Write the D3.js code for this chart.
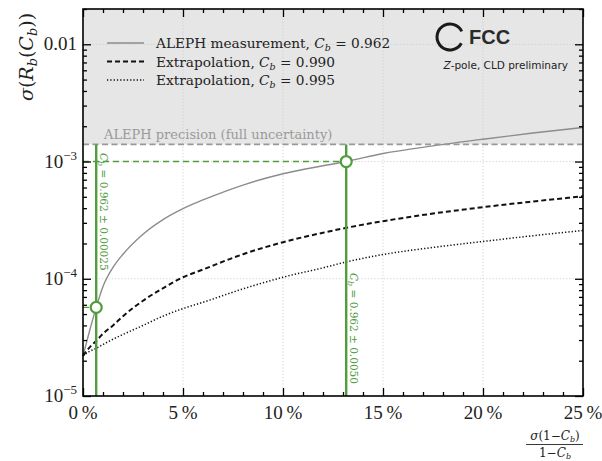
<!DOCTYPE html>
<html><head><meta charset="utf-8">
<script src="https://cdn.jsdelivr.net/npm/d3@7"></script>
<style>body{margin:0;background:#fff}svg{display:block}</style>
</head><body>
<svg id="c" width="602" height="461"></svg>
<script>
// ---- data ----
const xPct = [0, 0.33, 0.66, 1, 1.5, 2, 3, 4, 5, 6, 8, 10, 12, 13.16, 15, 17.5, 20, 22.5, 25];
const alephMeas = [2.2e-5, 3.6e-5, 5.7e-5, 8.6e-5, 1.25e-4, 1.62e-4, 2.4e-4, 3.2e-4, 3.97e-4, 4.7e-4, 6.3e-4, 7.87e-4, 9.2e-4, 1.0e-3, 1.17e-3, 1.36e-3, 1.55e-3, 1.75e-3, 1.95e-3];
const extrap990 = [2.2e-5, 2.6e-5, 2.95e-5, 3.4e-5, 4.0e-5, 4.8e-5, 6.5e-5, 8.3e-5, 1.03e-4, 1.2e-4, 1.62e-4, 2.05e-4, 2.47e-4, 2.72e-4, 3.1e-4, 3.6e-4, 4.08e-4, 4.56e-4, 5.05e-4];
const extrap995 = [2.2e-5, 2.4e-5, 2.55e-5, 2.75e-5, 3.05e-5, 3.35e-5, 4.0e-5, 4.8e-5, 5.57e-5, 6.3e-5, 8.2e-5, 1.03e-4, 1.24e-4, 1.39e-4, 1.61e-4, 1.85e-4, 2.08e-4, 2.33e-4, 2.58e-4];
const alephPrecision = 1.4e-3;
const markerX = [0.66, 13.16];
const markerY = [5.7e-5, 1.0e-3];
const markerLabels = ["0.00025", "0.0050"];
const xTicks = [0, 5, 10, 15, 20, 25];
const yTicks = [1e-5, 1e-4, 1e-3, 1e-2];
const yTickLabels = [["10","−5"], ["10","−4"], ["10","−3"], ["0.01",null]];
const legendItems = [
  {label:"ALEPH measurement, ", c:"0.962", style:"solid"},
  {label:"Extrapolation, ", c:"0.990", style:"dashed"},
  {label:"Extrapolation, ", c:"0.995", style:"dotted"}
];

// ---- layout ----
const svg = d3.select("#c");
const L = 83, R = 583, T = 9, B = 396;
const x = d3.scaleLinear().domain([0, 25]).range([L, R]);
const y = d3.scaleLog().domain([1e-5, 0.02]).range([B, T]);
const serif = "'DejaVu Serif', serif";
const tickFont = "'Liberation Serif', 'DejaVu Serif', serif";
const green = "#4f9d3c";

// shaded region
svg.append("rect").attr("x", L).attr("y", T).attr("width", R - L)
  .attr("height", y(alephPrecision) - T).attr("fill", "#e6e6e6");

// grid
const grid = svg.append("g").attr("stroke", "#c8c8c8").attr("stroke-width", 0.8).attr("stroke-dasharray", "1.2,2");
grid.selectAll("line.vx").data(xTicks.slice(1, -1)).join("line")
  .attr("x1", d => x(d)).attr("x2", d => x(d)).attr("y1", T).attr("y2", B);
grid.selectAll("line.hy").data(yTicks.slice(1)).join("line")
  .attr("y1", d => y(d)).attr("y2", d => y(d)).attr("x1", L).attr("x2", R);

// curves
const line = vals => d3.line().x((d, i) => x(xPct[i])).y(d => y(d)).curve(d3.curveMonotoneX)(vals);
svg.append("path").attr("d", line(alephMeas)).attr("fill", "none").attr("stroke", "#8c8c8c").attr("stroke-width", 1.4);
svg.append("path").attr("d", line(extrap990)).attr("fill", "none").attr("stroke", "#111").attr("stroke-width", 2).attr("stroke-dasharray", "5,3");
svg.append("path").attr("d", line(extrap995)).attr("fill", "none").attr("stroke", "#111").attr("stroke-width", 1.5).attr("stroke-dasharray", "1.3,2");

// ALEPH precision line
svg.append("line").attr("x1", L).attr("x2", R).attr("y1", y(alephPrecision)).attr("y2", y(alephPrecision))
  .attr("stroke", "#999").attr("stroke-width", 1.6).attr("stroke-dasharray", "6,3.5");
svg.append("text").attr("x", 104).attr("y", y(alephPrecision) - 5).attr("font-family", serif)
  .attr("font-size", 13).attr("fill", "#9a9a9a").text("ALEPH precision (full uncertainty)");

// green markers
markerX.forEach((mx, i) => {
  const g = svg.append("g");
  g.append("line").attr("x1", L).attr("x2", x(mx)).attr("y1", y(markerY[i])).attr("y2", y(markerY[i]))
    .attr("stroke", green).attr("stroke-width", 1.4).attr("stroke-dasharray", "6,4");
  g.append("line").attr("x1", x(mx)).attr("x2", x(mx)).attr("y1", y(alephPrecision)).attr("y2", B)
    .attr("stroke", green).attr("stroke-width", 2.4);
  g.append("circle").attr("cx", x(mx)).attr("cy", y(markerY[i])).attr("r", 5.5)
    .attr("fill", "#fff").attr("stroke", green).attr("stroke-width", 2.2);
  const ty = i === 0 ? 153 : 273;
  const t = g.append("text").attr("transform", `translate(${x(mx) + 4},${ty}) rotate(90)`)
    .attr("font-family", serif).attr("font-size", 10.5).attr("fill", green);
  t.append("tspan").attr("font-style", "italic").text("C");
  t.append("tspan").attr("font-style", "italic").attr("font-size", 8).attr("dy", 2).text("b");
  t.append("tspan").attr("dy", -2).text(" = 0.962 ± " + markerLabels[i]);
});

// axes (inward ticks)
function ax(axis, tr, size, vals) {
  const g = svg.append("g").attr("transform", tr).call(axis.tickValues(vals).tickSize(size).tickFormat(""));
  g.select(".domain").remove();
  g.selectAll("line").attr("stroke", "#000").attr("stroke-width", 1.3);
  return g;
}
const xMinor = d3.range(0, 26).filter(v => v % 5 !== 0);
const yMinor = [];
[1e-5, 1e-4, 1e-3, 1e-2].forEach(d => { for (let m = 2; m <= 9; m++) if (m * d <= 0.02) yMinor.push(m * d); });
ax(d3.axisBottom(x), `translate(0,${B})`, -8, xTicks);
ax(d3.axisBottom(x), `translate(0,${B})`, -4, xMinor);
ax(d3.axisTop(x), `translate(0,${T})`, -8, xTicks);
ax(d3.axisTop(x), `translate(0,${T})`, -4, xMinor);
ax(d3.axisLeft(y), `translate(${L},0)`, -8, yTicks);
ax(d3.axisLeft(y), `translate(${L},0)`, -4, yMinor);
ax(d3.axisRight(y), `translate(${R},0)`, -8, yTicks);
ax(d3.axisRight(y), `translate(${R},0)`, -4, yMinor);
svg.append("rect").attr("x", L).attr("y", T).attr("width", R - L).attr("height", B - T)
  .attr("fill", "none").attr("stroke", "#000").attr("stroke-width", 1.6);

// tick labels
svg.selectAll("text.xl").data(xTicks).join("text").attr("class", "xl")
  .attr("x", d => x(d)).attr("y", 419).attr("text-anchor", "middle")
  .attr("font-family", tickFont).attr("font-size", 19).attr("fill", "#222")
  .text(d => d + "\u2009%");
yTicks.forEach((v, i) => {
  const [base, exp] = yTickLabels[i];
  const t = svg.append("text").attr("x", 77).attr("y", y(v) + 6).attr("text-anchor", "end")
    .attr("font-family", tickFont).attr("font-size", 19).attr("fill", "#222");
  t.append("tspan").text(base);
  if (exp) t.append("tspan").attr("font-size", 13).attr("dy", -8).text(exp);
});

// y label
const yl = svg.append("text").attr("transform", "translate(33,57) rotate(-90)").attr("text-anchor", "middle")
  .attr("font-family", serif).attr("font-size", 19).attr("fill", "#222");
yl.append("tspan").attr("font-style", "italic").text("σ");
yl.append("tspan").text("(");
yl.append("tspan").attr("font-style", "italic").text("R");
yl.append("tspan").attr("font-style", "italic").attr("font-size", 13).attr("dy", 4).text("b");
yl.append("tspan").attr("dy", -4).text("(");
yl.append("tspan").attr("font-style", "italic").text("C");
yl.append("tspan").attr("font-style", "italic").attr("font-size", 13).attr("dy", 4).text("b");
yl.append("tspan").attr("dy", -4).text("))");

// x label (fraction)
const fx = 555;
const num = svg.append("text").attr("x", fx).attr("y", 440).attr("text-anchor", "middle")
  .attr("font-family", serif).attr("font-size", 12).attr("fill", "#222");
num.append("tspan").attr("font-style", "italic").text("σ");
num.append("tspan").text("(1−");
num.append("tspan").attr("font-style", "italic").text("C");
num.append("tspan").attr("font-style", "italic").attr("font-size", 8).attr("dy", 2).text("b");
num.append("tspan").attr("dy", -2).text(")");
svg.append("line").attr("x1", 526).attr("x2", 583).attr("y1", 444.5).attr("y2", 444.5).attr("stroke", "#222").attr("stroke-width", 0.9);
const den = svg.append("text").attr("x", fx).attr("y", 457).attr("text-anchor", "middle")
  .attr("font-family", serif).attr("font-size", 12).attr("fill", "#222");
den.append("tspan").text("1−");
den.append("tspan").attr("font-style", "italic").text("C");
den.append("tspan").attr("font-style", "italic").attr("font-size", 8).attr("dy", 2).text("b");

// legend
legendItems.forEach((it, i) => {
  const ly = 43 + i * 18.5;
  const l = svg.append("line").attr("x1", 107).attr("x2", 144).attr("y1", ly).attr("y2", ly);
  if (it.style === "solid") l.attr("stroke", "#8c8c8c").attr("stroke-width", 1.4);
  if (it.style === "dashed") l.attr("stroke", "#111").attr("stroke-width", 2).attr("stroke-dasharray", "5,3");
  if (it.style === "dotted") l.attr("stroke", "#111").attr("stroke-width", 1.5).attr("stroke-dasharray", "1.3,2");
  const t = svg.append("text").attr("x", 156).attr("y", ly + 5).attr("font-family", serif)
    .attr("font-size", 13.7).attr("fill", "#222");
  t.append("tspan").text(it.label);
  t.append("tspan").attr("font-style", "italic").text("C");
  t.append("tspan").attr("font-style", "italic").attr("font-size", 9.5).attr("dy", 3).text("b");
  t.append("tspan").attr("dy", -3).text(" = " + it.c);
});

// FCC logo
const arc = d3.arc().innerRadius(11.5).outerRadius(14.5).startAngle(0.66 * Math.PI).endAngle(2.36 * Math.PI);
svg.append("path").attr("d", arc()).attr("transform", "translate(450,37)").attr("fill", "#1a1a1a");
svg.append("text").attr("x", 469).attr("y", 44).attr("font-family", "'Liberation Sans', Arial, sans-serif")
  .attr("font-weight", "bold").attr("font-size", 20).attr("fill", "#2a2a2a").text("FCC");
const zp = svg.append("text").attr("x", 568).attr("y", 69).attr("text-anchor", "end")
  .attr("font-family", "'DejaVu Sans', sans-serif").attr("font-size", 10.5).attr("fill", "#222");
zp.append("tspan").attr("font-style", "italic").text("Z");
zp.append("tspan").text("-pole, CLD preliminary");
</script>
</body></html>
